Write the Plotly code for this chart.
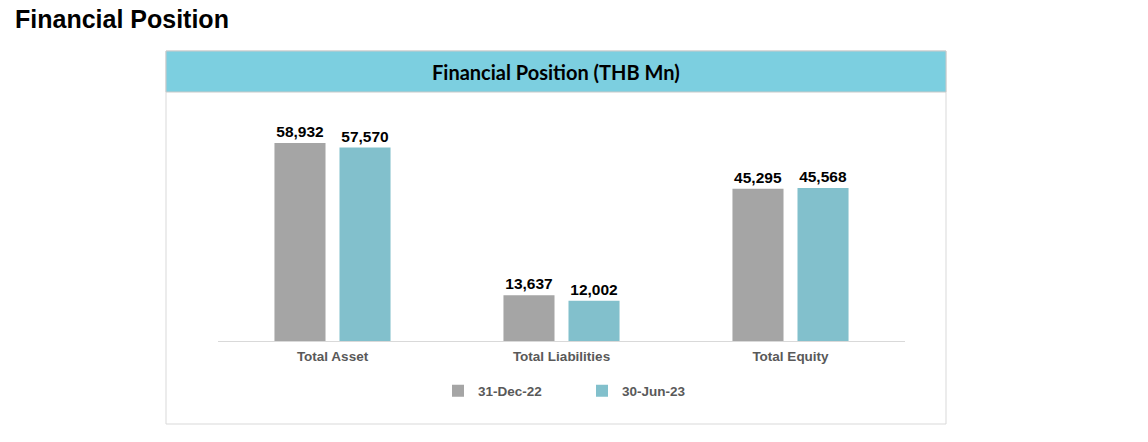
import plotly.graph_objects as go

categories = ["Total Asset", "Total Liabilities", "Total Equity"]
series_names = ["31-Dec-22", "30-Jun-23"]
dec22 = [58932, 13637, 45295]
jun23 = [57570, 12002, 45568]

# body margin is removed by post_script, so figure pixels == screenshot pixels
W, H = 1148, 442
def px(x):
    return x / W
def py(y):
    return 1 - y / H

colors = ["#a5a5a5", "#82c0cc"]
fig = go.Figure()
for name, vals, c in zip(series_names, [dec22, jun23], colors):
    fig.add_trace(go.Bar(
        x=categories, y=vals, name=name, marker=dict(color=c, line=dict(width=0)),
        texttemplate="%{y:,}", textposition="outside", cliponaxis=False,
        textfont=dict(family="Liberation Sans, Arial", size=15.5, color="#000000", weight="bold"),
        hoverinfo="skip",
    ))

fig.update_layout(
    width=W, height=H,
    margin=dict(l=0, r=0, t=0, b=0),
    paper_bgcolor="white", plot_bgcolor="white",
    barmode="group", bargap=0.432, bargroupgap=0.215,
    showlegend=True,
    legend=dict(orientation="h", x=px(438), y=py(391), xanchor="left", yanchor="middle",
                font=dict(family="Liberation Sans, Arial", size=13.5, color="#595959", weight="bold"),
                entrywidth=99, entrywidthmode="pixels", traceorder="normal"),
    xaxis=dict(domain=[px(218), px(905)], showline=True, linecolor="#d9d9d9", linewidth=1,
               ticks="", showgrid=False, zeroline=False, ticklabelstandoff=3,
               tickfont=dict(family="Liberation Sans, Arial", size=13.5, color="#595959", weight="bold")),
    yaxis=dict(domain=[py(341), py(110)], range=[0, 68750], visible=False, showgrid=False),
    font=dict(family="Liberation Sans, Arial"),
)

# container box
fig.add_shape(type="rect", xref="paper", yref="paper", x0=px(166), x1=px(946), y0=py(424), y1=py(51),
              line=dict(color="#d9d9d9", width=1), fillcolor="rgba(0,0,0,0)", layer="below")
# header band
fig.add_shape(type="rect", xref="paper", yref="paper", x0=px(166), x1=px(946), y0=py(92), y1=py(51),
              line=dict(color="#c9c9c9", width=1), fillcolor="#7ccfe0", layer="below")

fig.add_annotation(text="<b>Financial Position (THB Mn)</b>", xref="paper", yref="paper",
                   x=px(556), y=py(72), xanchor="center", yanchor="middle", showarrow=False,
                   font=dict(family="Lato, Liberation Sans Narrow", size=20, color="#000000"))
fig.add_annotation(text="<b>Financial Position</b>", xref="paper", yref="paper",
                   x=px(13), y=py(19), xanchor="left", yanchor="middle", showarrow=False,
                   font=dict(family="Liberation Sans, Arial", size=25, color="#000000"))

fig.write_html("out.html", config={"displayModeBar": False},
               post_script="document.body.style.margin='0';document.body.style.overflow='hidden';")
